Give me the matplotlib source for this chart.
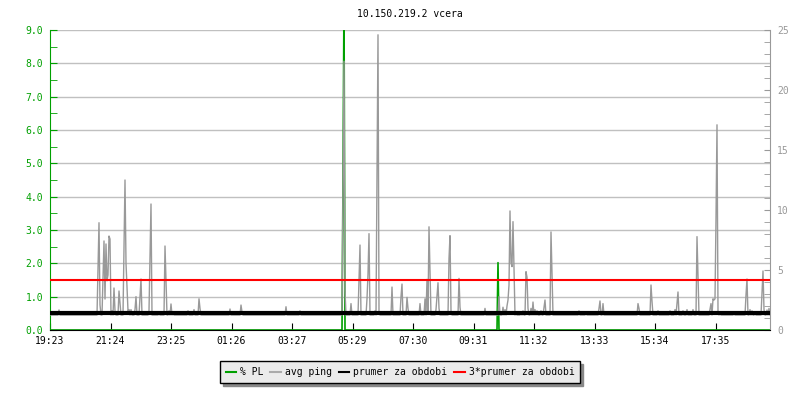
import numpy as np
import matplotlib
matplotlib.use("Agg")
import matplotlib.pyplot as plt
from matplotlib.lines import Line2D

# title / axis labels
title = "10.150.219.2 vcera"
tick_labels = ["19:23", "21:24", "23:25", "01:26", "03:27", "05:29",
               "07:30", "09:31", "11:32", "13:33", "15:34", "17:35"]
tick_step = 121  # minutes between labels

# avg ping (ms): baseline + spikes (minutes from 19:23)
ping_base = 1.25
spike_min = [18, 96, 98, 100, 106, 108, 110, 112, 114, 116, 118, 120, 124, 128, 130,
             138, 140, 148, 150, 152, 154, 156, 158, 162, 170, 172, 180, 182, 198, 200,
             202, 218, 230, 232, 238, 242, 246, 276, 288, 298, 300, 360, 382, 384, 472,
             500, 586, 588, 590, 602, 618, 620, 634, 636, 638, 650, 654, 656, 658, 684,
             702, 704, 714, 716, 740, 750, 754, 756, 758, 760, 772, 774, 776, 778, 798,
             800, 802, 818, 820, 870, 898, 906, 910, 914, 916, 918, 920, 922, 924, 926,
             928, 932, 942, 946, 952, 954, 956, 962, 966, 970, 974, 982, 988, 990, 1002,
             1004, 1058, 1072, 1098, 1100, 1106, 1176, 1178, 1202, 1204, 1216, 1240, 1250,
             1254, 1256, 1266, 1274, 1286, 1294, 1296, 1320, 1322, 1326, 1328, 1330, 1332,
             1334, 1336, 1340, 1368, 1392, 1394, 1400, 1404, 1410, 1424, 1426, 1428, 1434,
             1438]
spike_ms = [1.67, 5.17, 8.94, 2.1, 4.39, 7.42, 2.58, 7.17, 4.1, 4.58, 7.83, 7.58, 1.6, 3.5, 1.6,
            3.25, 2.3, 7.08, 12.5, 5.58, 3.67, 1.6, 1.7, 1.7, 1.7, 2.78, 2.78, 4.25, 1.6, 5.83,
            10.5, 1.5, 7.0, 4.1, 1.6, 2.17, 1.5, 1.6, 1.7, 2.6, 1.8, 1.75, 2.08, 1.5, 1.94,
            1.6, 11.8, 22.4, 3.28, 2.2, 4.25, 7.08, 2.6, 4.67, 8.03, 1.6, 13.2, 24.6, 1.6, 3.58,
            2.78, 3.83, 2.72, 1.8, 2.2, 2.6, 4.22, 1.6, 8.6, 5.0, 1.7, 2.8, 3.94, 1.8, 5.94,
            7.86, 1.6, 4.3, 1.9, 1.8, 2.78, 1.9, 1.7, 2.0, 2.5, 3.75, 9.92, 5.6, 5.28, 9.03,
            5.08, 1.5, 1.5, 1.6, 4.86, 4.4, 1.8, 1.8, 2.33, 1.7, 1.6, 1.6, 1.9, 2.5, 8.17,
            4.86, 1.6, 1.5, 1.8, 2.42, 2.2, 2.2, 1.8, 3.75, 2.4, 1.6, 1.6, 1.7,
            2.2, 3.17, 1.6, 1.7, 1.7, 7.78, 4.67, 1.7, 2.2, 2.6, 2.5, 2.6, 9.28,
            17.1, 1.6, 1.5, 1.5, 2.92, 4.25, 1.7, 1.6, 1.5, 3.19, 4.92, 1.7, 1.67,
            1.8]

# packet loss (%)
pl_min = [586, 588, 896]
pl_val = [4.5, 10.0, 2.02]

mean_ping = 1.38

minutes = np.arange(0, 1441, 2)
ping = np.full(minutes.shape, ping_base)
ping[np.array(spike_min) // 2] = spike_ms
pl = np.zeros(minutes.shape)
pl[np.array(pl_min) // 2] = pl_val

plt.rcParams['font.family'] = ['DejaVu Sans Mono']
fig = plt.figure(figsize=(8, 4), dpi=100)
ax = fig.add_axes([50 / 800, 70 / 400, 720 / 800, 300 / 400])
ax2 = ax.twinx()

# left axis: PL
ax.plot(minutes, pl, color="#00a000", lw=1.2, zorder=2)
ax.set_ylim(0, 9)
ax.set_xlim(0, 1440)
ax.set_yticks(np.arange(0, 9.1, 1))
ax.set_yticks(np.arange(0.5, 9, 1), minor=True)
ax.set_yticklabels([f"{v:.1f}" for v in np.arange(0, 9.1, 1)])
ax.tick_params(axis="y", which="both", direction="in", colors="#00a000", length=5,
               labelsize=7, pad=5)
ax.grid(axis="y", color="#c0c0c0", lw=1)
ax.set_axisbelow(True)
ax.set_xticks(np.arange(len(tick_labels)) * tick_step)
ax.set_xticklabels(tick_labels)
ax.tick_params(axis="x", direction="in", length=5, labelsize=7, pad=4, color="black")
for s in ["top", "right", "bottom"]:
    ax.spines[s].set_visible(False)
ax.spines["left"].set_color("#00a000")

# right axis: ping
ax2.plot(minutes, ping, color="#999999", lw=1, zorder=2)
ax2.axhline(mean_ping, color="black", lw=3, zorder=3)
ax2.axhline(3 * mean_ping, color="red", lw=1.5, zorder=3)
ax2.set_ylim(0, 25)
ax2.set_yticks([0, 5, 10, 15, 20, 25])
ax2.set_yticks(np.arange(1, 25), minor=True)
ax2.tick_params(axis="y", which="both", direction="in", colors="#999999", length=4,
                labelsize=7, pad=5)
ax2.spines["top"].set_visible(False)
ax2.spines["left"].set_visible(False)
ax2.spines["right"].set_color("#999999")
ax2.spines["bottom"].set_color("black")

fig.text(0.5125, 1 - 14 / 400, title, ha="center", va="center", fontsize=7)

handles = [Line2D([], [], color="#00a000", lw=1.5),
           Line2D([], [], color="#aaaaaa", lw=1.5),
           Line2D([], [], color="black", lw=1.5),
           Line2D([], [], color="red", lw=1.5)]
leg = fig.legend(handles, ["% PL", "avg ping", "prumer za obdobi", "3*prumer za obdobi"],
                 loc="center", bbox_to_anchor=(0.5, 1 - 372 / 400), ncol=4, fontsize=7,
                 handlelength=1.1, handletextpad=0.4, columnspacing=0.7, borderpad=0.6,
                 fancybox=False, edgecolor="black", facecolor="#ebebeb", framealpha=1,
                 shadow={"ox": 2.2, "oy": -2.2, "color": "#888888", "alpha": 1})
leg.get_frame().set_linewidth(1)

fig.savefig("out.png", dpi=100)
